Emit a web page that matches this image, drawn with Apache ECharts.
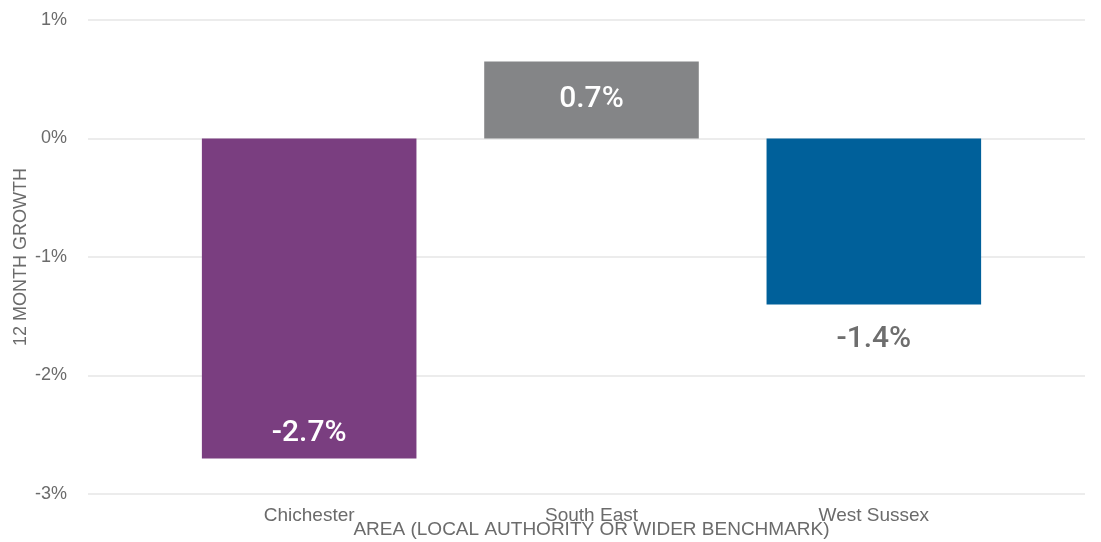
<!DOCTYPE html>
<html>
<head>
<meta charset="utf-8">
<script src="https://cdn.jsdelivr.net/npm/echarts@6/dist/echarts.min.js"></script>
<style>
  html, body { margin: 0; padding: 0; background: #fff; }
  #chart { width: 1101px; height: 542px; }
</style>
</head>
<body>
<div id="chart"></div>
<script>
const categories = ['Chichester', 'South East', 'West Sussex'];
const growth = [-2.7, 0.65, -1.4];
const valueLabels = ['-2.7%', '0.7%', '-1.4%'];
const barColors = ['#7a3e80', '#848587', '#00609a'];
const yTicks = [-3, -2, -1, 0, 1];

const labelStyles = [
    {position: 'insideBottom', distance: 10, color: '#fff'},
    {position: 'inside', color: '#fff'},
    {position: 'bottom', distance: 20, color: '#6e6e6e'},
];

const textGray = '#6b6b6b';
const sans = 'Liberation Sans';

const chart = echarts.init(document.getElementById('chart'));
chart.setOption({
    animation: false,
    // grid 0 holds the gridlines and ticks, grid 1 the narrower band of bars
    grid: [
        {left: 88, right: 16, top: 20, bottom: 48, outerBoundsMode: 'none'},
        {left: 168, right: 86, top: 20, bottom: 48, outerBoundsMode: 'none'},
    ],
    xAxis: [
        {
            gridIndex: 0,
            type: 'value',
            show: false,
            splitLine: {show: false},
        },
        {
            gridIndex: 1,
            type: 'category',
            data: categories,
            name: 'AREA (LOCAL AUTHORITY OR WIDER BENCHMARK)',
            nameLocation: 'middle',
            nameGap: 26,
            nameMoveOverlap: false,
            nameTextStyle: {color: textGray, fontSize: 19, fontFamily: sans},
            axisLine: {show: false},
            axisTick: {show: false},
            axisLabel: {color: textGray, fontSize: 19, fontFamily: sans, margin: 12},
        },
    ],
    yAxis: [
        {
            gridIndex: 0,
            type: 'value',
            min: yTicks[0],
            max: yTicks[yTicks.length - 1],
            interval: 1,
            name: '12 MONTH GROWTH',
            nameLocation: 'middle',
            nameGap: 58,
            nameMoveOverlap: false,
            nameTextStyle: {color: textGray, fontSize: 18, fontFamily: sans},
            axisLine: {show: false},
            axisTick: {show: false},
            axisLabel: {
                color: textGray,
                fontSize: 18,
                fontFamily: sans,
                margin: 21,
                formatter: v => v + '%',
            },
            splitLine: {lineStyle: {color: '#e6e6e6', width: 1.5}},
        },
        {
            gridIndex: 1,
            type: 'value',
            min: yTicks[0],
            max: yTicks[yTicks.length - 1],
            interval: 1,
            show: false,
            splitLine: {show: false},
        },
    ],
    series: [
        {
            type: 'bar',
            xAxisIndex: 1,
            yAxisIndex: 1,
            barWidth: '76%',
            data: growth.map((v, i) => ({
                value: v,
                itemStyle: {color: barColors[i]},
                label: {
                    show: true,
                    formatter: valueLabels[i],
                    fontSize: 30,
                    fontWeight: 500,
                    fontFamily: 'Roboto',
                    ...labelStyles[i],
                },
            })),
        },
    ],
});
</script>
</body>
</html>
